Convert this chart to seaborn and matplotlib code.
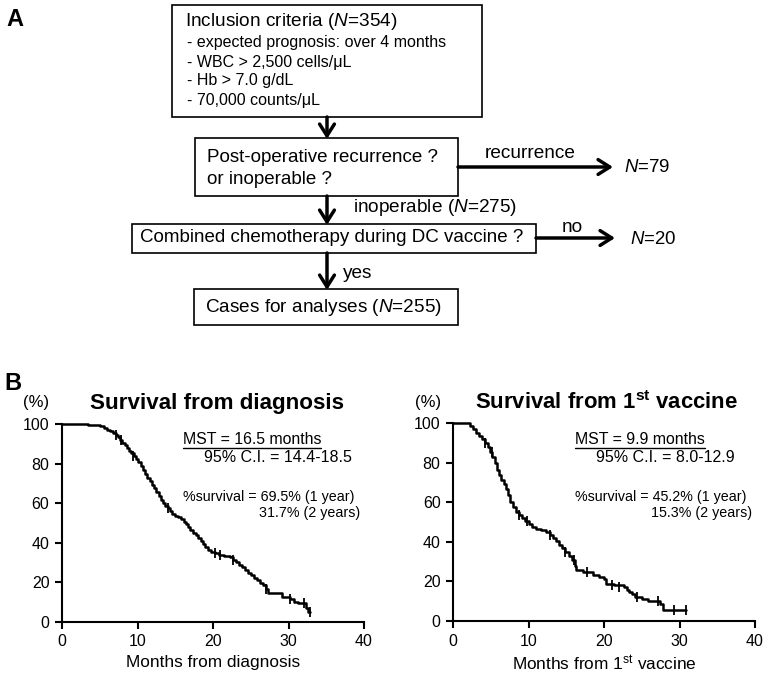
import matplotlib
matplotlib.use("Agg")
import matplotlib.pyplot as plt
from matplotlib.patches import Rectangle
import seaborn as sns

# %% Data
# Kaplan-Meier, survival from diagnosis (months, % surviving)
diag_t = [0, 3.5, 5.0, 5.6, 6.0, 6.4, 6.8, 7.1, 7.4, 7.7, 8.0, 8.3, 8.6, 8.9, 9.2,
          9.5, 9.8, 10.1, 10.4, 10.7, 11.0, 11.3, 11.6, 11.9, 12.2, 12.5, 12.8,
          13.1, 13.4, 13.7, 14.0, 14.3, 14.6, 15.0, 15.4, 15.8, 16.1, 16.4, 16.7,
          17.0, 17.3, 17.7, 18.0, 18.4, 18.7, 19.0, 19.3, 19.7, 20.2, 20.8, 21.5,
          22.2, 22.6, 23.0, 23.4, 23.8, 24.2, 24.6, 25.0, 25.4, 25.8, 26.2, 26.6,
          27.0, 27.3, 29.2, 30.2, 30.7, 31.3, 32.3, 32.6, 32.9]
diag_s = [100, 99.6, 99.0, 98.0, 97.2, 96.4, 95.6, 94.5, 93.3, 92.0, 90.6, 89.3,
          87.8, 86.6, 85.4, 84.0, 82.4, 80.6, 78.8, 76.8, 74.8, 72.8, 71.0, 69.4,
          67.6, 65.6, 63.6, 61.8, 60.0, 58.6, 57.4, 56.0, 54.6, 53.6, 52.8, 51.8,
          50.6, 49.4, 48.0, 46.6, 45.2, 43.8, 42.4, 41.0, 39.4, 37.8, 36.4, 35.2,
          34.6, 34.0, 33.4, 32.6, 31.4, 30.2, 29.0, 27.6, 26.2, 24.8, 23.6, 22.4,
          21.0, 19.8, 18.6, 16.8, 14.4, 12.8, 11.6, 10.2, 9.4, 7.0, 5.0, 5.0]
diag_cens_t = [7.1, 7.8, 9.4, 14.0, 20.3, 20.9, 22.7, 27.0, 30.2, 32.0, 32.9]
diag_cens_s = [94.5, 92.0, 84.0, 57.4, 34.6, 34.0, 31.4, 16.8, 11.6, 9.4, 5.0]

# Kaplan-Meier, survival from 1st vaccine
vac_t = [0, 2.0, 2.3, 2.7, 3.1, 3.5, 3.9, 4.3, 4.6, 4.9, 5.2, 5.5, 5.8, 6.1, 6.4,
         6.7, 7.0, 7.3, 7.6, 7.9, 8.3, 8.7, 9.1, 9.5, 10.0, 10.5, 11.0, 11.6,
         12.3, 12.9, 13.3, 13.7, 14.1, 14.5, 14.9, 15.3, 15.8, 16.1, 16.3, 17.2,
         18.6, 19.4, 20.0, 20.2, 21.3, 22.6, 23.0, 23.3, 23.7, 24.1, 25.0, 25.8,
         27.4, 27.8, 30.9]
vac_s = [100, 100, 98.4, 96.8, 95.2, 93.6, 92.0, 90.0, 88.0, 85.4, 82.6, 79.6,
         76.4, 73.6, 71.2, 69.0, 66.8, 63.4, 60.0, 57.4, 55.2, 53.6, 52.0, 50.6,
         49.0, 47.6, 46.6, 45.8, 45.0, 43.4, 42.0, 40.4, 38.6, 36.8, 34.6, 32.8,
         31.0, 28.0, 25.8, 24.6, 23.4, 22.4, 21.0, 18.8, 18.0, 17.2, 15.6, 14.6,
         13.4, 12.0, 11.0, 10.2, 8.4, 5.6, 5.6]
vac_cens_t = [4.2, 5.1, 8.8, 9.8, 12.9, 14.9, 16.0, 17.8, 21.1, 22.0, 24.4, 27.2, 29.3, 30.9]
vac_cens_s = [90.0, 85.4, 53.6, 50.6, 43.4, 34.6, 31.0, 24.6, 18.0, 17.2, 12.0, 10.2, 5.6, 5.6]

# %% Style
sns.set_style("ticks")
plt.rcParams["font.family"] = ["Liberation Sans", "DejaVu Sans"]
plt.rcParams["mathtext.fontset"] = "custom"
plt.rcParams["mathtext.rm"] = "Liberation Sans"
plt.rcParams["mathtext.it"] = "Liberation Sans:italic"
plt.rcParams["mathtext.bf"] = "Liberation Sans:bold"
for key in ["text.color", "axes.labelcolor", "xtick.color", "ytick.color", "axes.edgecolor"]:
    plt.rcParams[key] = "black"

fig = plt.figure(figsize=(7.65, 6.74), dpi=100)
W, H = 765, 674


def km_panel(rect, t, s, ct, cs, xlabel):
    ax = fig.add_axes(rect)
    sns.lineplot(x=t, y=s, drawstyle="steps-post", color="black", lw=1.8,
                 estimator=None, clip_on=False, ax=ax)
    sns.scatterplot(x=ct, y=cs, marker="|", s=45, color="black", linewidth=1.3,
                    clip_on=False, ax=ax)
    ax.set(xlim=(0, 40), ylim=(0, 100), xticks=range(0, 41, 10), yticks=range(0, 101, 20))
    ax.set_xlabel(xlabel, fontsize=12.4, labelpad=4)
    sns.despine(ax=ax)
    for sp in ax.spines.values():
        sp.set_linewidth(1.5)
    ax.tick_params(labelsize=11.5, length=5, width=1.5, direction="out", pad=4)
    return ax


km_panel([62 / W, 52 / H, 302 / W, 198 / H], diag_t, diag_s, diag_cens_t, diag_cens_s,
         "Months from diagnosis")
km_panel([453 / W, 53 / H, 302 / W, 198 / H], vac_t, vac_s, vac_cens_t, vac_cens_s,
         "Months from 1$^{\\rm st}$ vaccine")

# %% Overlay in pixel coordinates: flowchart and panel text
flow = fig.add_axes([0, 0, 1, 1])
flow.set_xlim(0, W)
flow.set_ylim(H, 0)
flow.axis("off")


def box(x0, y0, x1, y1):
    flow.add_patch(Rectangle((x0, y0), x1 - x0, y1 - y0, fill=False, lw=1.2, ec="black"))


def arrow(x0, y0, x1, y1):
    flow.annotate("", xy=(x1, y1), xytext=(x0, y0),
                  arrowprops=dict(arrowstyle="->,head_length=0.6,head_width=0.38",
                                  lw=2.5, color="black", shrinkA=0, shrinkB=0,
                                  mutation_scale=14))


def txt(x, y, s, size=13.7, **kw):
    flow.text(x, y, s, fontsize=size, va="center", ha=kw.pop("ha", "left"), **kw)


txt(6, 19, "A", size=17, weight="bold")
txt(4, 384, "B", size=17, weight="bold")

box(172, 5, 482, 117)
txt(185, 22, "Inclusion criteria ($\\mathit{N}$=354)", size=13.7)
txt(187, 43, "- expected prognosis: over 4 months", size=11.5)
txt(187, 62, "- WBC > 2,500 cells/μL", size=11.5)
txt(187, 81, "- Hb > 7.0 g/dL", size=11.5)
txt(187, 100, "- 70,000 counts/μL", size=11.5)

box(195, 138, 458, 196)
txt(207, 157, "Post-operative recurrence ?", size=13.5)
txt(207, 180, "or inoperable ?", size=13.5)

box(132, 224, 536, 253)
txt(140, 238, "Combined chemotherapy during DC vaccine ?", size=13.5)

box(194, 289, 458, 325)
txt(205, 307, "Cases for analyses ($\\mathit{N}$=255)")

arrow(327, 117, 327, 139)
arrow(327, 196, 327, 225)
arrow(327, 253, 327, 290)
arrow(458, 167, 613, 167)
arrow(536, 238, 615, 238)

txt(485, 153, "recurrence")
txt(624, 168, "$\\mathit{N}$=79", size=13.4)
txt(353, 208, "inoperable ($\\mathit{N}$=275)")
txt(562, 227, "no")
txt(630, 239, "$\\mathit{N}$=20", size=13.4)
txt(343, 273, "yes")

# panel B text
txt(23, 403, "(%)", size=12)
txt(415, 403, "(%)", size=12)
txt(217, 403, "Survival from diagnosis", size=16.1, weight="bold", ha="center")
txt(607, 403, "Survival from 1$^{\\mathbf{st}}$ vaccine", size=15.9, weight="bold", ha="center")

for x0, mst, ci, y1, y2, dx in [
        (183, "MST = 16.5 months", "95% C.I. = 14.4-18.5", "69.5%", "31.7%", 76),
        (575, "MST = 9.9 months", "95% C.I. = 8.0-12.9", "45.2%", "15.3%", 76)]:
    t = flow.text(x0, 440, mst, fontsize=11.4, va="center")
    fig.canvas.draw()
    bb = t.get_window_extent().transformed(flow.transData.inverted())
    flow.plot([bb.x0, bb.x1], [448, 448], color="black", lw=1)
    txt(x0 + 21, 457, ci, size=11.5)
    txt(x0, 497, "%survival = " + y1 + " (1 year)", size=10.25)
    txt(x0 + dx, 513, y2 + " (2 years)", size=10.25)

fig.savefig("out.png", dpi=100)
